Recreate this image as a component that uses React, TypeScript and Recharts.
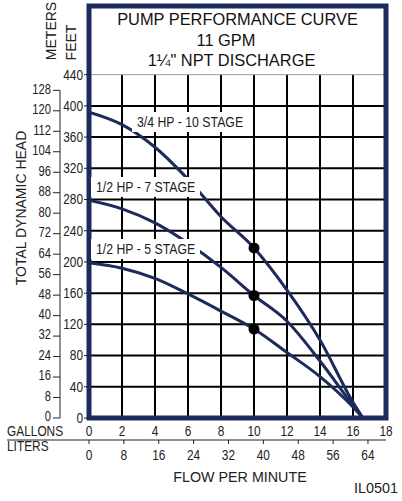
import React from "react";
import {
  ComposedChart,
  CartesianGrid,
  Line,
  Scatter,
  XAxis,
  YAxis,
  ReferenceArea,
} from "recharts";

// flow in US gallons per minute, head in feet
const gallons = [0, 2, 4, 6, 8, 10, 12, 14, 16, 16.6];
const hp34Stage10 = [392, 376, 347, 306, 258, 218, 164, 100, 20, 0];
const hp12Stage7 = [279, 268, 250, 224, 193, 157, 124, 73, 16, 0];
const hp12Stage5 = [199, 192, 179, 159, 137, 114, 84, 53, 14, 0];

const ratedFlow = 10;
const ratedHead = [218, 157, 114];

const feetTicks = [0, 40, 80, 120, 160, 200, 240, 280, 320, 360, 400, 440];
const meterTicks = [0, 8, 16, 24, 32, 40, 48, 56, 64, 72, 80, 88, 96, 104, 112, 120, 128];
const gallonTicks = [0, 2, 4, 6, 8, 10, 12, 14, 16, 18];
const literTicks = [0, 8, 16, 24, 32, 40, 48, 56, 64];

const FT_MAX = 528;
const FT_TOP = 440;
const GAL_MAX = 18;
const FT_PER_M = 3.28084;
const L_PER_GAL = 3.78541;

const NAVY = "#1d2a5c";
const INK = "#222";
const SANS = "'Liberation Sans', Arial, sans-serif";

const TOP = 6;
const HEIGHT = 501;
const GAL_AXIS_H = 22;
const LIT_AXIS_H = 61;
const PLOT_H = HEIGHT - TOP - GAL_AXIS_H - LIT_AXIS_H;
const METER_STEP = (8 * FT_PER_M * PLOT_H) / FT_MAX;

const table = gallons.map((g, i) => ({
  gal: g,
  lit: g * L_PER_GAL,
  s10: hp34Stage10[i],
  m10: hp34Stage10[i] / FT_PER_M,
  s7: hp12Stage7[i],
  s5: hp12Stage5[i],
}));
const rated = ratedHead.map((h) => ({ gal: ratedFlow, ft: h }));

// narrow lettering: Arial squeezed sideways
function NText({
  x,
  y,
  size = 15,
  anchor = "start",
  squeeze = 0.82,
  children,
}: {
  x: number;
  y: number;
  size?: number;
  anchor?: "start" | "middle" | "end";
  squeeze?: number;
  children: React.ReactNode;
}) {
  return (
    <text
      transform={`translate(${x},${y}) scale(${squeeze},1)`}
      textAnchor={anchor}
      dominantBaseline="central"
      fontFamily={SANS}
      fontSize={size}
      fill={INK}
    >
      {children}
    </text>
  );
}

function BottomTick(props: any) {
  const { x, y, payload } = props;
  return (
    <NText x={x} y={y + 5.5} size={14.5} anchor="middle">
      {payload.value}
    </NText>
  );
}

function FeetTick(props: any) {
  const { x, y, payload } = props;
  return (
    <NText x={x} y={y} size={14.5} anchor="end">
      {payload.value}
    </NText>
  );
}

function MeterTick(props: any) {
  const { x, y, payload } = props;
  const lineX = x + 9;
  return (
    <g>
      <NText x={x} y={y - 1} size={14} anchor="end" squeeze={0.8}>
        {payload.value}
      </NText>
      {payload.value > 0 && <line x1={lineX} x2={lineX} y1={y} y2={y + METER_STEP} stroke={INK} />}
    </g>
  );
}

function Tag({ x, y, w, label }: { x: number; y: number; w: number; label: string }) {
  return (
    <g>
      <rect x={x} y={y - 10} width={w} height={20} fill="#fff" />
      <NText x={x + 5} y={y} size={15}>
        {label}
      </NText>
    </g>
  );
}

export default function App() {
  return (
    <div style={{ position: "absolute", left: 0, top: 0, width: 402, height: HEIGHT, background: "#fff" }}>
      <ComposedChart
        width={402}
        height={HEIGHT}
        data={table}
        margin={{ top: TOP, right: 16, bottom: 0, left: 30 }}
      >
        <XAxis
          xAxisId="gal"
          dataKey="gal"
          type="number"
          domain={[0, GAL_MAX]}
          allowDataOverflow
          ticks={gallonTicks}
          height={GAL_AXIS_H}
          axisLine={false}
          tickLine={false}
          tickSize={0}
          tickMargin={8}
          tick={<BottomTick />}
          interval={0}
        />
        <XAxis
          xAxisId="lit"
          dataKey="lit"
          type="number"
          domain={[0, GAL_MAX * L_PER_GAL]}
          allowDataOverflow
          ticks={literTicks}
          height={LIT_AXIS_H}
          axisLine={false}
          tickLine={{ stroke: INK }}
          tickSize={4}
          tickMargin={6}
          tick={<BottomTick />}
          interval={0}
        />
        <YAxis
          yAxisId="ft"
          type="number"
          domain={[0, FT_MAX]}
          allowDataOverflow
          ticks={feetTicks}
          width={29}
          axisLine={false}
          tickLine={{ stroke: INK }}
          tickSize={5}
          tickMargin={1}
          tick={<FeetTick />}
          interval={0}
        />
        <YAxis
          yAxisId="m"
          dataKey="m10"
          type="number"
          domain={[0, FT_MAX / FT_PER_M]}
          allowDataOverflow
          ticks={meterTicks}
          width={30}
          axisLine={false}
          tickLine={{ stroke: INK }}
          tickSize={7}
          tickMargin={2}
          tick={<MeterTick />}
          interval={0}
        />

        <CartesianGrid
          xAxisId="gal"
          yAxisId="ft"
          horizontalValues={feetTicks.slice(1, -1)}
          verticalValues={gallonTicks.slice(1, -1)}
          stroke="#000"
          strokeWidth={2}
          strokeDasharray=""
        />
        {/* white header band above the 440 ft line hides the grid */}
        <ReferenceArea
          xAxisId="gal"
          yAxisId="ft"
          x1={0}
          x2={GAL_MAX}
          y1={FT_TOP}
          y2={FT_MAX}
          fill="#fff"
          fillOpacity={1}
          stroke="#9a9a9a"
          strokeWidth={1}
          ifOverflow="visible"
        />

        <Line xAxisId="gal" yAxisId="ft" dataKey="s10" type="monotone" stroke={NAVY} strokeWidth={3} dot={false} isAnimationActive={false} />
        <Line xAxisId="gal" yAxisId="ft" dataKey="s7" type="monotone" stroke={NAVY} strokeWidth={3} dot={false} isAnimationActive={false} />
        <Line xAxisId="gal" yAxisId="ft" dataKey="s5" type="monotone" stroke={NAVY} strokeWidth={3} dot={false} isAnimationActive={false} />
        <Scatter
          xAxisId="gal"
          yAxisId="ft"
          data={rated}
          dataKey="ft"
          isAnimationActive={false}
          shape={(p: any) => <circle cx={p.cx} cy={p.cy} r={5.5} fill="#000" />}
        />

        <ReferenceArea
          xAxisId="gal"
          yAxisId="ft"
          x1={0}
          x2={GAL_MAX}
          y1={0}
          y2={FT_MAX}
          fill="none"
          fillOpacity={0}
          stroke={NAVY}
          strokeWidth={5}
          ifOverflow="visible"
        />
      </ComposedChart>
      <svg width={402} height={HEIGHT} style={{ position: "absolute", left: 0, top: 0, pointerEvents: "none" }}>
        <Tag x={132} y={122} w={116} label="3/4 HP - 10 STAGE" />
        <Tag x={91} y={187} w={109} label="1/2 HP - 7 STAGE" />
        <Tag x={91} y={249} w={109} label="1/2 HP - 5 STAGE" />

        <text x={237.5} y={18.5} textAnchor="middle" dominantBaseline="central" fontFamily={SANS} fontSize={16.4} fill="#111">
          PUMP PERFORMANCE CURVE
        </text>
        <text x={226} y={39.5} textAnchor="middle" dominantBaseline="central" fontFamily={SANS} fontSize={16.4} fill="#111">
          11 GPM
        </text>
        <text x={231.5} y={59.5} textAnchor="middle" dominantBaseline="central" fontFamily={SANS} fontSize={16.4} fill="#111">
          1¼" NPT DISCHARGE
        </text>

        <text transform="translate(51,31) rotate(-90)" textAnchor="middle" dominantBaseline="central" fontFamily={SANS} fontSize={14} fill={INK}>
          METERS
        </text>
        <text transform="translate(70.5,42.5) rotate(-90)" textAnchor="middle" dominantBaseline="central" fontFamily={SANS} fontSize={14} fill={INK}>
          FEET
        </text>
        <text transform="translate(21,208) rotate(-90)" textAnchor="middle" dominantBaseline="central" fontFamily={SANS} fontSize={14} fill={INK}>
          TOTAL DYNAMIC HEAD
        </text>

        <line x1={7} x2={386} y1={440} y2={440} stroke={INK} />
        <NText x={7} y={431.5} size={14.5}>
          GALLONS
        </NText>
        <NText x={7} y={446} size={14.5}>
          LITERS
        </NText>
        <text x={240} y={477} textAnchor="middle" dominantBaseline="central" fontFamily={SANS} fontSize={14.3} fill={INK}>
          FLOW PER MINUTE
        </text>
        <text x={376} y={488} textAnchor="middle" dominantBaseline="central" fontFamily={SANS} fontSize={14.4} fill={INK}>
          IL0501
        </text>
      </svg>
    </div>
  );
}
